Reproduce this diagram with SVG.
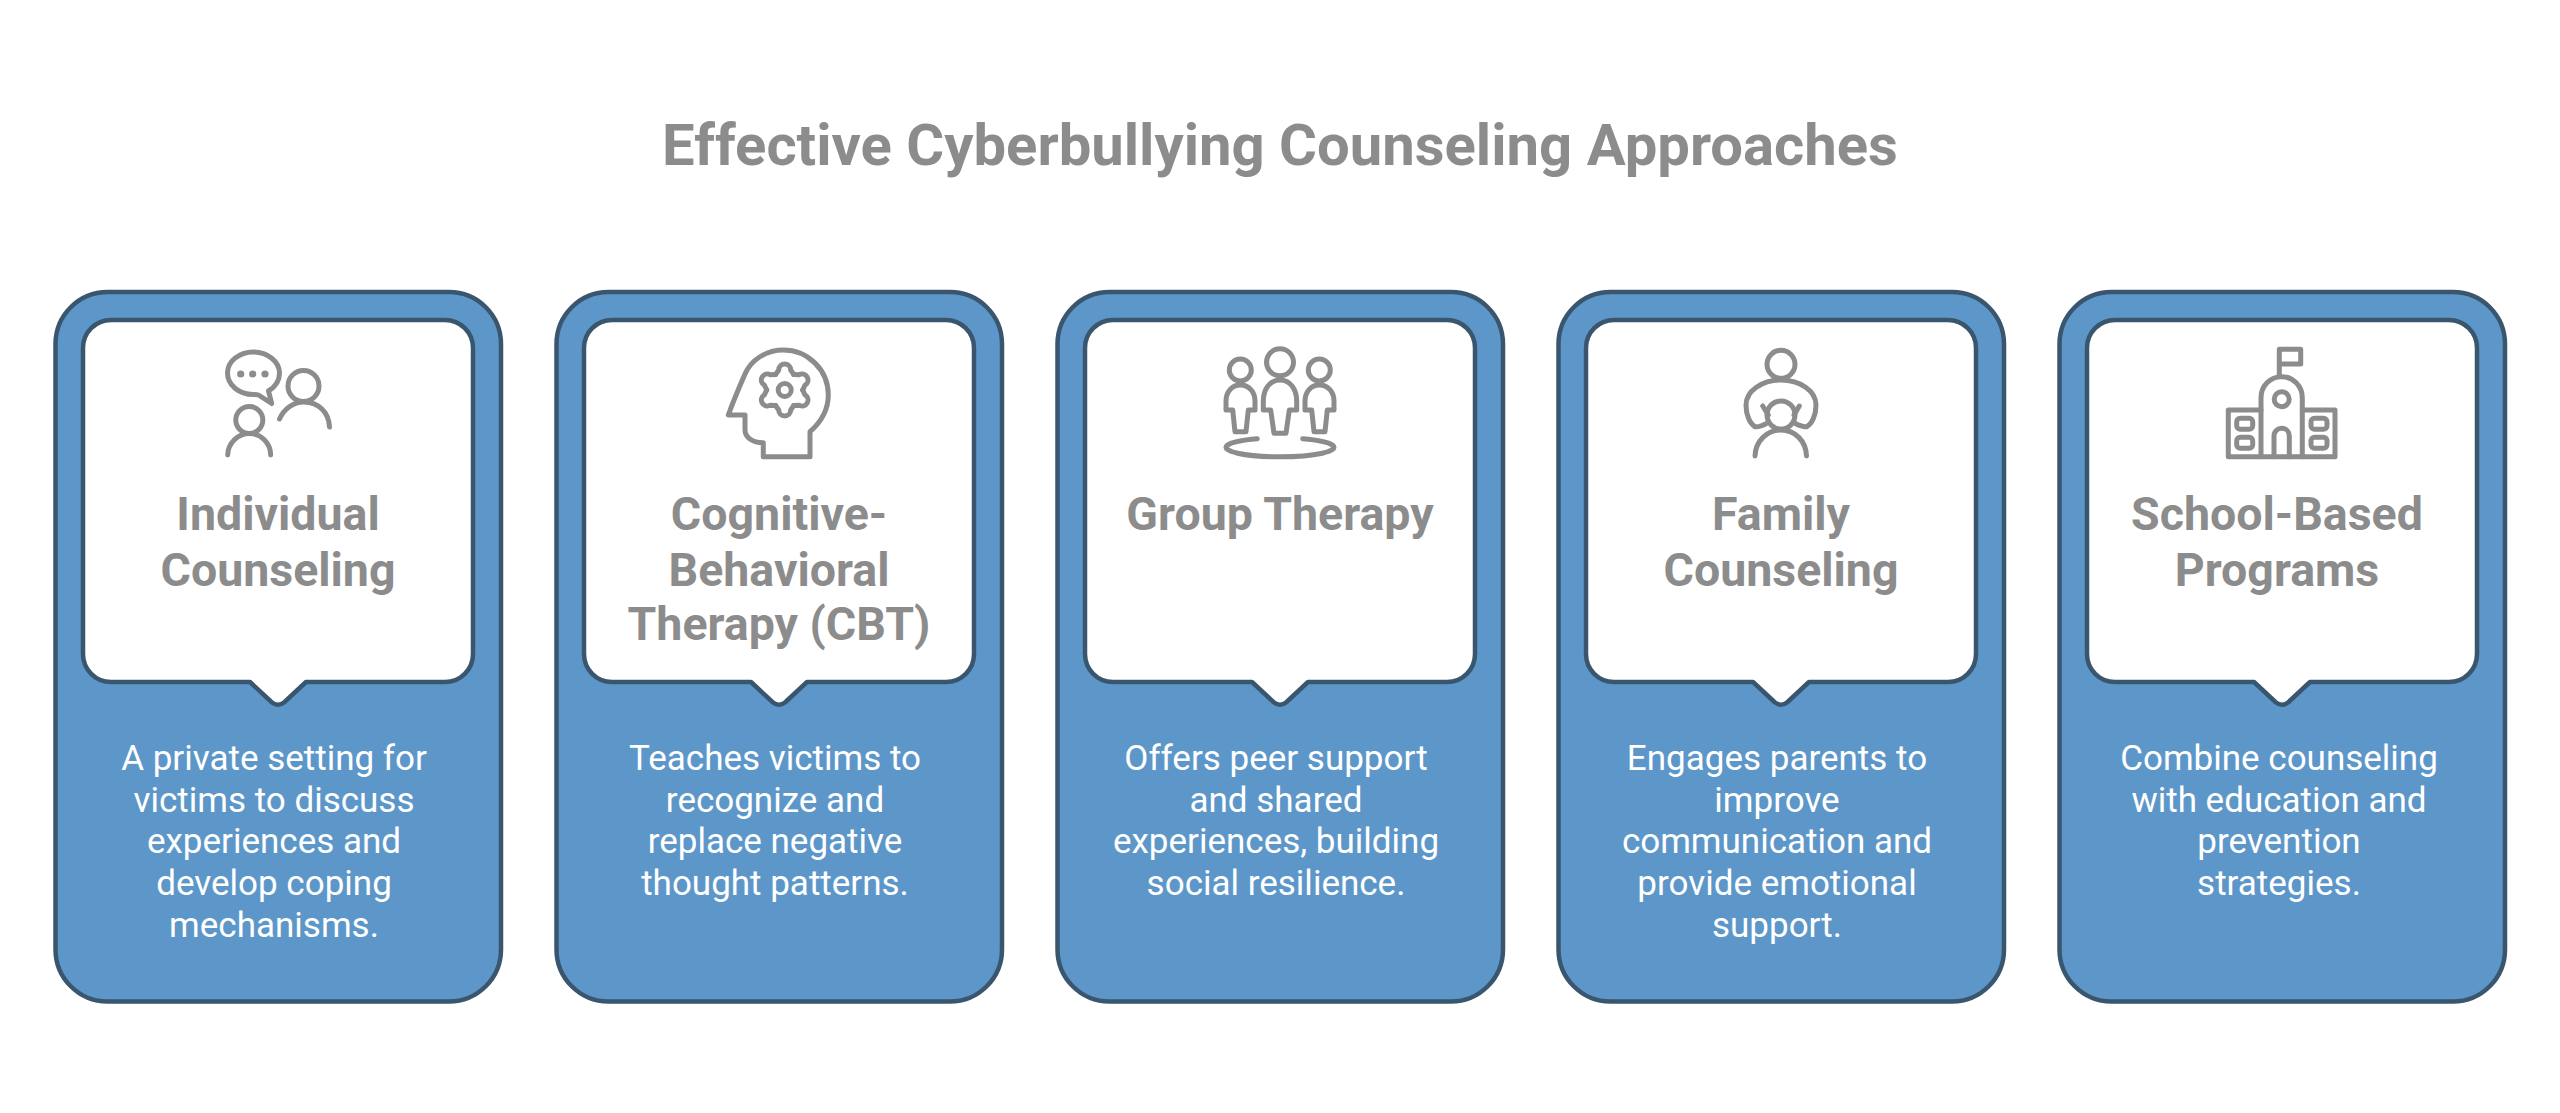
<svg xmlns="http://www.w3.org/2000/svg" width="2560" height="1113" viewBox="0 0 2560 1113">
<style>
.outer{fill:#5d97c9;stroke:#3a566e;stroke-width:4.5}
.inner{fill:#fff;stroke:#3a566e;stroke-width:4.5;stroke-linejoin:round}
.ico{fill:none;stroke:#8c8c8c;stroke-width:5;stroke-linecap:round;stroke-linejoin:round}
.dot{fill:#8c8c8c}
.t{font-family:Roboto,"Liberation Sans",sans-serif;font-weight:700;fill:#8c8c8c;text-anchor:middle}
.title{font-size:58px}
.h{font-size:46.5px}
.b{font-family:Roboto,"Liberation Sans",sans-serif;font-weight:400;font-size:35px;fill:#fff;text-anchor:middle}
</style>
<defs>
<g id="card">
<rect class="outer" x="55.5" y="292" width="445.5" height="709.5" rx="52"/>
<path class="inner" d="M111 320H445A28 28 0 0 1 473 348V654A28 28 0 0 1 445 682H306L284 702.5Q278 707 272 702.5L250 682H111A28 28 0 0 1 83 654V348A28 28 0 0 1 111 320Z"/>
</g>
<path id="tooth" d="M-9 -15.6L-6 -20A6 6 0 0 1 6 -20L9 -15.6"/>
</defs>
<text class="t title" x="1280" y="165">Effective Cyberbullying Counseling Approaches</text>

<g id="node-individual">
<use href="#card"/>
<g class="ico">
<path d="M258.5 395L271.7 403.5L268.5 391C275 387 279.5 380.5 279.5 373C279.5 361.5 267.5 352 253.3 352C239 352 227.5 361.5 227.5 373C227.5 385 239 394.5 253.3 394.5C255 394.5 257 394.5 258.5 395Z"/>
<circle cx="303.5" cy="386" r="15.5"/>
<path d="M279.5 419C284 409 293 402 304 402C319 402 329 413 329.5 427"/>
<circle cx="249.3" cy="420" r="13.5"/>
<path d="M227.7 455C228 443 238 433.5 249.3 433.5C261 433.5 270.5 443 270.7 455"/>
</g>
<circle class="dot" cx="240.7" cy="374" r="3.6"/><circle class="dot" cx="252.7" cy="374" r="3.6"/><circle class="dot" cx="265" cy="374" r="3.6"/>
<text class="t h" x="278" y="530">Individual</text>
<text class="t h" x="278" y="585.5">Counseling</text>
<text class="b" x="274" y="770">A private setting for</text>
<text class="b" x="274" y="811.7">victims to discuss</text>
<text class="b" x="274" y="853.4">experiences and</text>
<text class="b" x="274" y="895.1">develop coping</text>
<text class="b" x="274" y="936.8">mechanisms.</text>
</g>

<g id="node-cbt">
<use href="#card" x="501"/>
<g class="ico">
<path d="M763.3 442.7V456.7H810V431.7C821 422 828.3 409 828.3 395C828.3 370 808 350 783.3 350C766 350 751 360 745 374C738 390 733 402 728.3 415H745V430C745 437 752 442.7 763.3 442.7Z"/>
<circle cx="784.7" cy="390" r="6.5"/>
<g transform="translate(784.7 390)">
<use href="#tooth"/><use href="#tooth" transform="rotate(60)"/><use href="#tooth" transform="rotate(120)"/><use href="#tooth" transform="rotate(180)"/><use href="#tooth" transform="rotate(240)"/><use href="#tooth" transform="rotate(300)"/>
</g>
</g>
<text class="t h" x="779" y="530">Cognitive-</text>
<text class="t h" x="779" y="585.5">Behavioral</text>
<text class="t h" x="779" y="640">Therapy (CBT)</text>
<text class="b" x="775" y="770">Teaches victims to</text>
<text class="b" x="775" y="811.7">recognize and</text>
<text class="b" x="775" y="853.4">replace negative</text>
<text class="b" x="775" y="895.1">thought patterns.</text>
</g>

<g id="node-group">
<use href="#card" x="1002"/>
<g class="ico">
<circle cx="1280" cy="362.3" r="13.5"/>
<path d="M1263.3 410V401C1263.3 389 1270 380 1280 380C1290 380 1296.7 389 1296.7 401V410H1289.3L1286 433.3H1274L1270.7 410Z"/>
<circle cx="1240.3" cy="370" r="11"/>
<path d="M1226 410V401C1226 392 1232 385 1240.3 385C1249 385 1255 392 1255 401V410H1248.3L1246 431.7H1235L1232.7 410Z"/>
<circle cx="1319.3" cy="370" r="11"/>
<path d="M1305 410V401C1305 392 1311 385 1319.3 385C1328 385 1334 392 1334 401V410H1327.3L1325 431.7H1314L1311.7 410Z"/>
<path d="M1257.3 438.7A54 9.5 0 1 0 1302.7 438.7"/>
</g>
<text class="t h" x="1280" y="530">Group Therapy</text>
<text class="b" x="1276" y="770">Offers peer support</text>
<text class="b" x="1276" y="811.7">and shared</text>
<text class="b" x="1276" y="853.4">experiences, building</text>
<text class="b" x="1276" y="895.1">social resilience.</text>
</g>

<g id="node-family">
<use href="#card" x="1503"/>
<g class="ico">
<circle cx="1781" cy="364.3" r="14"/>
<circle cx="1781" cy="415" r="14"/>
<path d="M1755 456C1755.500 441 1767 430 1781 430C1795 430 1806 441 1806.500 456"/>
<path d="M1766.700 423.300C1762 426 1758 427 1755 426.700C1750 424 1746 415 1746 405C1746 391 1762 380 1781 380C1800 380 1816 391 1816 405C1816 415 1812 424 1806.700 426.700C1804 427 1800 426 1795 423.300"/>
<path d="M1762.700 406L1768.300 415M1799.300 406L1794 415"/>
</g>
<text class="t h" x="1781" y="530">Family</text>
<text class="t h" x="1781" y="585.5">Counseling</text>
<text class="b" x="1777" y="770">Engages parents to</text>
<text class="b" x="1777" y="811.7">improve</text>
<text class="b" x="1777" y="853.4">communication and</text>
<text class="b" x="1777" y="895.1">provide emotional</text>
<text class="b" x="1777" y="936.8">support.</text>
</g>

<g id="node-school">
<use href="#card" x="2004"/>
<g class="ico">
<path d="M2279.300 376V349.300H2300.700V364H2279.300"/>
<path d="M2261 456.700V398C2261 386 2270 376.700 2281.700 376.700C2293 376.700 2302.300 386 2302.300 398V456.700"/>
<circle cx="2281.700" cy="399.300" r="7.500"/>
<path d="M2261 410H2228.300V456.700H2335V410H2302.300"/>
<path d="M2274 456.700V436C2274 431.500 2277.500 428.300 2281.700 428.300C2286 428.300 2289.300 431.500 2289.300 436V456.700"/>
<rect x="2236.700" y="418.300" width="16" height="11" rx="3.500"/>
<rect x="2236.700" y="437.300" width="16" height="11" rx="3.500"/>
<rect x="2311" y="418.300" width="16" height="11" rx="3.500"/>
<rect x="2311" y="437.300" width="16" height="11" rx="3.500"/>
</g>
<text class="t h" x="2277" y="530">School-Based</text>
<text class="t h" x="2277" y="585.5">Programs</text>
<text class="b" x="2279" y="770">Combine counseling</text>
<text class="b" x="2279" y="811.7">with education and</text>
<text class="b" x="2279" y="853.4">prevention</text>
<text class="b" x="2279" y="895.1">strategies.</text>
</g>
</svg>
